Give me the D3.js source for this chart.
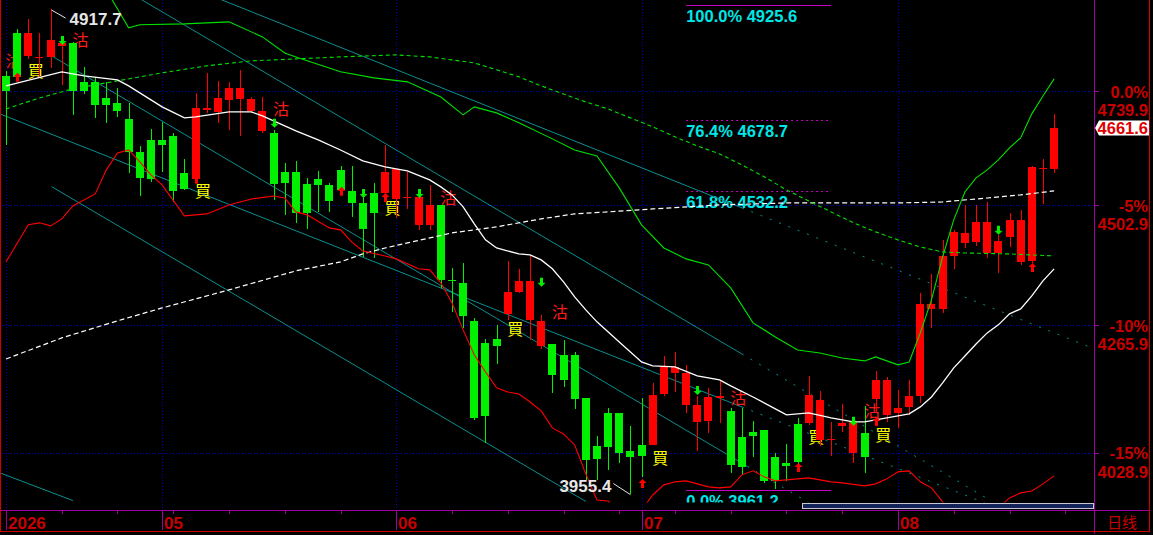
<!DOCTYPE html>
<html><head><meta charset="utf-8">
<script src="https://cdn.jsdelivr.net/npm/d3@7"></script>
<style>html,body{margin:0;padding:0;background:#000;overflow:hidden}svg{display:block}</style>
</head><body><svg id="c" width="1153" height="535"></svg>
<script>
// ---------- DATA ----------
const opens = [4772.3,4865.4,4815.2,4810.9,4813.1,4836.9,4843.5,4759.4,4759.4,4725.1,
4714.5,4680.9,4611.8,4636.9,4636.9,4645.3,4568.7,4556.4,4699.8,4695.6,
4720.8,4722.9,4697.7,4655.8,4651.6,4570.8,4570.8,4546.1,4556.4,4544.1,
4574.9,4531.8,4507.3,4527.7,4527.7,4515.4,4517.4,4463.2,4463.2,4503.3,
4354.2,4348.3,4274.7,4232.4,4240.1,4288.1,4330.7,4276.6,4226.7,4230.5,
4209.6,4209.6,4129.0,4041.0,4101.5,4101.5,4031.8,4042.8,4042.8,4136.5,
4175.9,4116.1,4084.9,4086.8,4129.0,4105.1,4057.4,4066.6,4070.3,4021.1,
4010.3,4081.3,4083.1,4051.9,4051.9,4077.6,4028.2,4064.8,4127.2,4097.8,
4101.5,4112.5,4132.8,4297.7,4297.7,4401.2,4427.1,4429.1,4407.1,4407.1,
4439.1,4389.5,4391.4,4576.9,4576.9];
const highs = [4783.0,4874.2,4896.1,4865.4,4917.7,4843.5,4845.0,4791.6,4770.2,4759.4,
4746.6,4714.5,4624.3,4660.0,4674.6,4651.6,4597.4,4735.6,4778.7,4761.6,
4759.4,4785.2,4727.2,4727.2,4657.9,4589.2,4593.3,4558.4,4572.8,4548.2,
4583.1,4583.1,4519.5,4548.2,4626.4,4576.9,4570.8,4523.6,4544.1,4503.3,
4377.7,4387.5,4280.4,4240.1,4267.0,4391.4,4375.8,4403.2,4286.2,4230.5,
4238.2,4215.3,4129.0,4059.3,4110.6,4101.5,4077.6,4129.0,4157.2,4207.8,
4215.3,4190.9,4132.8,4147.8,4162.8,4110.6,4110.6,4086.8,4070.3,4028.2,
4044.6,4092.3,4170.3,4142.1,4084.9,4118.0,4094.1,4114.3,4179.6,4168.4,
4144.0,4162.8,4328.7,4366.0,4433.1,4453.1,4503.3,4503.3,4509.3,4443.1,
4487.2,4493.2,4583.1,4597.4,4691.5];
const lows = [4626.4,4765.9,4808.8,4768.0,4789.5,4753.0,4689.3,4733.5,4683.0,4672.5,
4685.1,4568.7,4521.5,4550.2,4570.8,4509.3,4533.8,4554.3,4693.5,4672.5,
4657.9,4645.3,4693.5,4651.6,4513.3,4483.2,4467.2,4455.1,4489.2,4489.2,
4529.7,4479.2,4399.3,4397.3,4513.3,4477.2,4495.2,4453.1,4453.1,4338.5,
4292.0,4261.2,4088.6,4046.5,4192.8,4276.6,4328.7,4238.2,4220.9,4138.4,
4149.7,4108.8,3979.8,3979.8,3997.8,4010.3,3955.4,3985.2,4042.8,4132.8,
4140.3,4101.5,4031.8,4064.8,4083.1,3992.4,3988.8,4021.1,3974.5,3963.7,
3978.0,3994.2,4079.5,4041.0,4022.8,4066.6,4010.3,3992.4,4103.3,4084.9,
4073.9,4097.8,4119.8,4261.2,4290.0,4375.8,4417.0,4421.0,4397.3,4367.9,
4419.0,4383.6,4387.5,4505.3,4568.7];
const closes = [4740.1,4770.2,4865.4,4813.1,4850.0,4843.5,4740.1,4740.1,4710.3,4710.3,
4697.7,4611.8,4558.4,4556.4,4626.4,4531.8,4535.9,4704.0,4704.0,4725.1,
4746.6,4746.6,4722.9,4697.7,4546.1,4548.2,4487.2,4487.2,4544.1,4511.3,
4533.8,4507.3,4455.1,4487.2,4570.8,4576.9,4519.5,4519.5,4503.3,4354.2,
4352.2,4284.3,4092.3,4096.0,4226.7,4330.7,4352.2,4352.2,4274.7,4172.2,
4162.8,4127.2,4015.7,4017.5,4039.1,4028.2,4021.1,4022.8,4134.7,4187.1,
4187.1,4175.9,4116.1,4130.9,4132.8,4006.7,4003.1,4059.3,3978.0,3978.0,
4004.9,4012.1,4134.7,4125.3,4053.8,4083.1,4086.8,4021.1,4162.8,4162.8,
4110.6,4132.8,4307.3,4307.3,4401.2,4449.1,4447.1,4469.2,4469.2,4431.1,
4473.2,4473.2,4581.0,4579.0,4661.6];

// moving average / band lines: [candle index, price]
const maShort = [[0,4750.8],[5,4780.9],[7,4772.3],[10,4763.7],[11,4750.8],[14,4706.1],[16,4683.0],[17,4685.1],
[20,4695.6],[22,4695.6],[23,4687.2],[25,4666.3],[26,4655.8],[28,4636.9],[30,4615.9],[32,4593.3],[34,4581.0],
[36,4572.8],[38,4554.3],[39,4540.0],[40,4523.6],[41,4499.3],[42,4465.2],[43,4433.1],[44,4417.0],[46,4405.2],
[47,4403.2],[48,4393.4],[49,4375.8],[50,4350.3],[51,4320.9],[52,4295.8],[53,4272.8],[55,4234.4],[57,4196.5],
[58,4189.0],[60,4187.1],[62,4170.3],[64,4162.8],[65,4151.5],[67,4130.9],[69,4108.8],[70,4097.8],[72,4101.5],
[74,4092.3],[76,4084.9],[77,4084.9],[78,4088.6],[80,4096.0],[81,4099.6],[82,4112.5],[83,4130.9],[84,4157.2],
[85,4185.3],[86,4207.8],[87,4230.5],[88,4251.6],[89,4267.0],[90,4288.1],[91,4297.7],[92,4322.8],[93,4352.2],[94,4375.8]];
const maLong = [[0,4202.1],[5,4242.0],[10,4274.7],[14,4299.6],[20,4334.6],[26,4371.8],[30,4389.5],[32,4405.2],
[34,4417.0],[40,4447.1],[44,4459.2],[48,4475.2],[51,4485.2],[54,4489.2],[58,4495.2],[64,4503.3],[70,4507.3],
[80,4507.3],[84,4509.3],[88,4517.4],[91,4523.6],[94,4531.8]];
const maMid = [[0,4701.9],[3,4725.1],[6,4744.5],[10,4761.6],[14,4778.7],[18,4793.8],[22,4804.5],[26,4808.8],
[30,4813.1],[35,4817.4],[38,4813.1],[40,4806.6],[42,4800.2],[44,4785.2],[46,4770.2],[48,4750.8],[50,4733.5],
[52,4716.6],[54,4701.9],[56,4683.0],[58,4664.2],[60,4643.2],[62,4624.3],[64,4607.7],[66,4585.1],[68,4560.5],
[70,4533.8],[72,4511.3],[74,4489.2],[76,4467.2],[78,4449.1],[80,4433.1],[82,4419.0],[84,4409.1],[86,4407.1],
[90,4405.2],[94,4401.2]];
const bandUpper = [[9,4960.0],[11,4876.4],[12,4883.0],[16,4885.1],[20,4889.5],[23,4856.6],[25,4821.7],[26,4813.1],
[30,4780.9],[33,4768.0],[36,4759.4],[39,4727.2],[41,4689.3],[42,4706.1],[44,4693.5],[46,4672.5],[49,4639.0],
[51,4615.9],[53,4603.6],[55,4537.9],[57,4463.2],[59,4417.0],[61,4395.4],[63,4383.6],[65,4338.5],[67,4270.8],
[69,4243.9],[71,4219.0],[73,4213.4],[75,4204.0],[77,4198.4],[78,4205.9],[80,4190.9],[81,4196.5],[82,4251.6],
[83,4315.0],[84,4399.3],[85,4473.2],[86,4529.7],[87,4558.4],[88,4574.9],[89,4595.4],[90,4620.1],[91,4641.1],
[92,4691.5],[93,4729.3],[94,4765.9]];
const bandLower = [[0,4389.5],[2,4463.2],[3,4467.2],[4,4461.1],[5,4475.2],[6,4501.3],[8,4525.6],[9,4574.9],
[10,4609.7],[11,4615.9],[12,4591.3],[13,4564.6],[14,4544.1],[16,4481.2],[18,4485.2],[20,4503.3],[22,4515.4],
[24,4521.5],[25,4517.4],[26,4489.2],[27,4483.2],[29,4457.1],[30,4453.1],[31,4429.1],[32,4411.0],[34,4401.2],
[35,4395.4],[37,4375.8],[38,4373.8],[39,4348.3],[40,4309.2],[41,4257.4],[42,4209.6],[43,4177.8],[44,4147.8],
[45,4140.3],[46,4136.5],[47,4121.6],[48,4105.1],[49,4073.9],[50,4062.9],[51,4042.8],[52,3990.6],[53,3944.0],
[54,3942.2],[55,3922.8],[56,3917.5],[57,3926.3],[58,3952.9],[59,3970.9],[60,3976.3],[61,3978.0],[62,3972.7],
[63,3967.3],[64,3965.5],[65,3967.3],[66,3988.8],[67,3996.0],[68,3985.2],[69,3978.0],[71,3981.6],[72,3983.4],
[74,3976.3],[75,3974.5],[77,3969.1],[78,3972.7],[79,3981.6],[80,3994.2],[81,3996.0],[82,3976.3],[83,3965.5],
[84,3940.5],[86,3912.3],[88,3912.3],[89,3929.8],[90,3947.6],[91,3956.6],[92,3960.1],[93,3972.7],[94,3987.0]];

// drawn trend channel lines: [i1, price1, i2, price2, dotted]
const trendLines = [
 [17,4961.4,66,4497.3,false],[66,4497.3,97,4226.3,true],
 [11,4955.4,66,4211.5,false],[66,4211.5,88,3946.5,true],
 [-0.5,4691.0,66,4112.4,false],[66,4112.4,88,3937.1,true],
 [4.1,4540.4,52,3941.5,false],
 [4,4816.6,66.5,4004.0,false],[66.5,4004.0,72,3939.2,true],
 [-0.5,3992.0,6,3943.0,false]
];

const fibLabels = ["100.0%","76.4%","61.8%","0.0%"];
const fibPrices = [4925.6,4678.7,4532.2,3961.2];
const fibSolid = [true,false,false,true];
const fibSpan = [61,74];

const pctLabels = ["0.0%","-5%","-10%","-15%"];
const pctPrices = [4739.9,4502.9,4265.9,4028.9];

const monthIdx = [0,14,35,57,80];
const monthLabels = ["2026","05","06","07","08"];
const periodLabel = "日线";

// trade signals: [index, price, text]
const signals = [[0,4806.6,"沽"],[2,4785.2,"買"],[6,4852.2,"沽"],[17,4533.8,"買"],[24,4704.0,"沽"],
[34,4499.3,"買"],[39,4519.5,"沽"],[45,4261.2,"買"],[49,4293.9,"沽"],[58,4021.1,"買"],[65,4130.9,"沽"],
[72,4059.3,"買"],[77,4107.0,"沽"],[78,4062.9,"買"]];
const upArrows = [[1,4778.7],[17,4564.6],[30,4540.0],[34,4527.7],[57,3981.6],[71,4010.3],[78,4094.1],[92,4387.5]];
const downArrows = [[5,4839.1],[24,4662.1],[32,4517.4],[37,4517.4],[48,4340.5],[62,4134.7],[76,4077.6],[89,4443.1]];

const highMark = [4,4917.7];
const lowMark = [56,3955.4];
const lastPrice = 4661.6;

// ---------- DRAW ----------
const svg = d3.select("#c");
svg.append("rect").attr("width",1153).attr("height",535).attr("fill","#000");
const x = d3.scaleLinear().domain([0,94]).range([6,1054.1]);
const y = d3.scaleLog().domain([4739.9,4028.9]).range([91,452.6]);

const defs = svg.append("defs");
defs.append("clipPath").attr("id","plot").append("rect").attr("x",1).attr("y",0).attr("width",1093).attr("height",502.5);

const BLUE="#0000c8", PURPLE="#a000a0", AXRED="#c80000";

// grid
const grid = svg.append("g");
grid.selectAll(".h").data(pctPrices).join("line")
 .attr("x1",2).attr("x2",1094).attr("y1",d=>Math.round(y(d))+0.5).attr("y2",d=>Math.round(y(d))+0.5)
 .attr("stroke",BLUE).attr("stroke-dasharray","1,2");
grid.selectAll(".v").data(monthIdx).join("line")
 .attr("x1",d=>Math.round(x(d))+0.5).attr("x2",d=>Math.round(x(d))+0.5).attr("y1",0).attr("y2",510)
 .attr("stroke",BLUE).attr("stroke-dasharray","1,2");

const plot = svg.append("g").attr("clip-path","url(#plot)");

// fib
const fib = plot.append("g");
fibPrices.forEach((p,k)=>{
  const yy = Math.round(y(p))+0.5;
  fib.append("line").attr("x1",x(fibSpan[0])).attr("x2",x(fibSpan[1])).attr("y1",yy).attr("y2",yy)
   .attr("stroke","#c800c8").attr("stroke-width",1).attr("stroke-dasharray",fibSolid[k]?null:"2,3");
  fib.append("text").attr("x",x(fibSpan[0])).attr("y",yy+16.5)
   .attr("fill","#00e6e6").attr("font-family","Liberation Sans, Arial, sans-serif").attr("font-weight","bold")
   .attr("font-size",16.5).text(fibLabels[k]+" "+p.toFixed(1));
});

// trend lines
plot.append("g").selectAll("line").data(trendLines).join("line")
 .attr("x1",d=>x(d[0])).attr("y1",d=>y(d[1])).attr("x2",d=>x(d[2])).attr("y2",d=>y(d[3]))
 .attr("stroke","#0a8f8f").attr("stroke-width",1).attr("stroke-dasharray",d=>d[4]?"2,8":null);

// signals (under candles)
plot.append("g").selectAll("text").data(signals).join("text")
 .attr("x",d=>x(d[0])-0.5).attr("y",d=>y(d[1])).attr("dominant-baseline","central")
 .attr("font-family","Noto Sans CJK TC, Noto Sans CJK SC, sans-serif").attr("font-size",16)
 .attr("fill",d=>d[2]==="買"?"#ffff00":"#ff1a1a").text(d=>d[2]);

// candles
const idx = d3.range(opens.length);
const cg = plot.append("g").attr("shape-rendering","crispEdges");
const col = i => closes[i]>=opens[i] ? "#ff0000" : "#00f000";
cg.selectAll(".w").data(idx).join("line")
 .attr("x1",i=>Math.round(x(i))+0.5).attr("x2",i=>Math.round(x(i))+0.5)
 .attr("y1",i=>y(highs[i])).attr("y2",i=>y(lows[i])).attr("stroke",col);
cg.selectAll(".b").data(idx).join("rect")
 .attr("x",i=>Math.round(x(i))-4).attr("width",8)
 .attr("y",i=>y(Math.max(opens[i],closes[i])))
 .attr("height",i=>Math.max(1.5,y(Math.min(opens[i],closes[i]))-y(Math.max(opens[i],closes[i]))))
 .attr("fill",col);

// lines
const ln = d3.line().x(d=>x(d[0])).y(d=>y(d[1]));
const lg = plot.append("g").attr("fill","none");
lg.append("path").attr("d",ln(maLong)).attr("stroke","#ffffff").attr("stroke-width",1.2).attr("stroke-dasharray","5,3");
lg.append("path").attr("d",ln(maMid)).attr("stroke","#00e000").attr("stroke-width",1.1).attr("stroke-dasharray","4,3");
lg.append("path").attr("d",ln(bandUpper)).attr("stroke","#00e000").attr("stroke-width",1.1);
lg.append("path").attr("d",ln(bandLower)).attr("stroke","#ff0000").attr("stroke-width",1.1);
lg.append("path").attr("d",ln(maShort)).attr("stroke","#ffffff").attr("stroke-width",1.3);

// arrows
const ag = plot.append("g");
ag.selectAll(".u").data(upArrows).join("path")
 .attr("d",d=>{const cx=Math.round(x(d[0]))+0.5, t=y(d[1]);
   return `M${cx},${t}L${cx+4},${t+4}L${cx+1.5},${t+4}L${cx+1.5},${t+9}L${cx-1.5},${t+9}L${cx-1.5},${t+4}L${cx-4},${t+4}Z`;})
 .attr("fill","#ff0000");
ag.selectAll(".d").data(downArrows).join("path")
 .attr("d",d=>{const cx=Math.round(x(d[0]))+0.5, t=y(d[1]);
   return `M${cx},${t}L${cx+4},${t-4}L${cx+1.5},${t-4}L${cx+1.5},${t-9}L${cx-1.5},${t-9}L${cx-1.5},${t-4}L${cx-4},${t-4}Z`;})
 .attr("fill","#00f000");

// high / low markers
const mk = plot.append("g").attr("font-family","Liberation Sans, Arial, sans-serif").attr("font-weight","bold").attr("font-size",17).attr("fill","#e6e6e6");
{ const hx=x(highMark[0]), hy=y(highMark[1]);
  mk.append("line").attr("x1",hx+1).attr("y1",hy+1).attr("x2",hx+15).attr("y2",hy+9).attr("stroke","#e6e6e6");
  mk.append("text").attr("x",hx+19).attr("y",hy+16).text(highMark[1].toFixed(1));
  const lx=x(lowMark[0]), ly=y(lowMark[1]);
  mk.append("line").attr("x1",lx).attr("y1",ly+1).attr("x2",lx-17).attr("y2",ly-10).attr("stroke","#e6e6e6");
  mk.append("text").attr("x",lx-19).attr("y",ly-2).attr("text-anchor","end").text(lowMark[1].toFixed(1));
}

// scrollbar
svg.append("rect").attr("x",802.5).attr("y",503.5).attr("width",291).attr("height",5)
 .attr("fill","#14245a").attr("stroke","#c8c8d4");

// frame
const fr = svg.append("g").attr("shape-rendering","crispEdges");
fr.append("line").attr("x1",0).attr("x2",1150).attr("y1",510.5).attr("y2",510.5).attr("stroke",PURPLE);
fr.append("line").attr("x1",1094.5).attr("x2",1094.5).attr("y1",0).attr("y2",534).attr("stroke",PURPLE);
fr.append("line").attr("x1",0.5).attr("x2",0.5).attr("y1",0).attr("y2",532).attr("stroke","#d00000").attr("stroke-width",1.5);
fr.append("line").attr("x1",1149.5).attr("x2",1149.5).attr("y1",0).attr("y2",532).attr("stroke","#d00000");
fr.append("line").attr("x1",0).attr("x2",1150).attr("y1",531.5).attr("y2",531.5).attr("stroke","#d00000");
fr.selectAll(".rt").data(pctPrices).join("line")
 .attr("x1",1094).attr("x2",1099).attr("y1",d=>Math.round(y(d))+0.5).attr("y2",d=>Math.round(y(d))+0.5).attr("stroke",PURPLE);
const minor = d3.range(5,96,5);
fr.selectAll(".mt").data(minor).join("line")
 .attr("x1",d=>Math.round(x(d))+0.5).attr("x2",d=>Math.round(x(d))+0.5).attr("y1",510).attr("y2",514).attr("stroke",PURPLE);
fr.selectAll(".Mt").data(monthIdx).join("line")
 .attr("x1",d=>Math.round(x(d))+0.5).attr("x2",d=>Math.round(x(d))+0.5).attr("y1",510).attr("y2",530).attr("stroke",PURPLE);

// axis labels
const al = svg.append("g").attr("font-family","Liberation Sans, Arial, sans-serif").attr("font-weight","bold").attr("fill",AXRED);
al.selectAll(".ml").data(monthIdx).join("text")
 .attr("x",d=>Math.round(x(d))+2).attr("y",529).attr("font-size",17).text((d,k)=>monthLabels[k]);
al.append("text").attr("x",1107).attr("y",528).attr("font-size",15).attr("font-weight","normal")
 .attr("font-family","Noto Sans CJK SC, sans-serif").text(periodLabel);
al.selectAll(".pl").data(pctPrices).join("text")
 .attr("x",1148).attr("y",d=>y(d)+6.5).attr("text-anchor","end").attr("font-size",16.5).text((d,k)=>pctLabels[k]);
al.selectAll(".pv").data(pctPrices).join("text")
 .attr("x",1148).attr("y",d=>y(d)+25).attr("text-anchor","end").attr("font-size",16.5).text(d=>d.toFixed(1));

// last price tag
{ const ly = y(lastPrice);
  svg.append("path").attr("d",`M1095,${ly}L1099,${ly-7.5}L1149,${ly-7.5}L1149,${ly+7.5}L1099,${ly+7.5}Z`).attr("fill","#ffffff");
  svg.append("text").attr("x",1148).attr("y",ly+6).attr("text-anchor","end")
   .attr("font-family","Liberation Sans, Arial, sans-serif").attr("font-weight","bold").attr("font-size",16.5)
   .attr("fill","#e00000").text(lastPrice.toFixed(1));
}
</script>
</body></html>
